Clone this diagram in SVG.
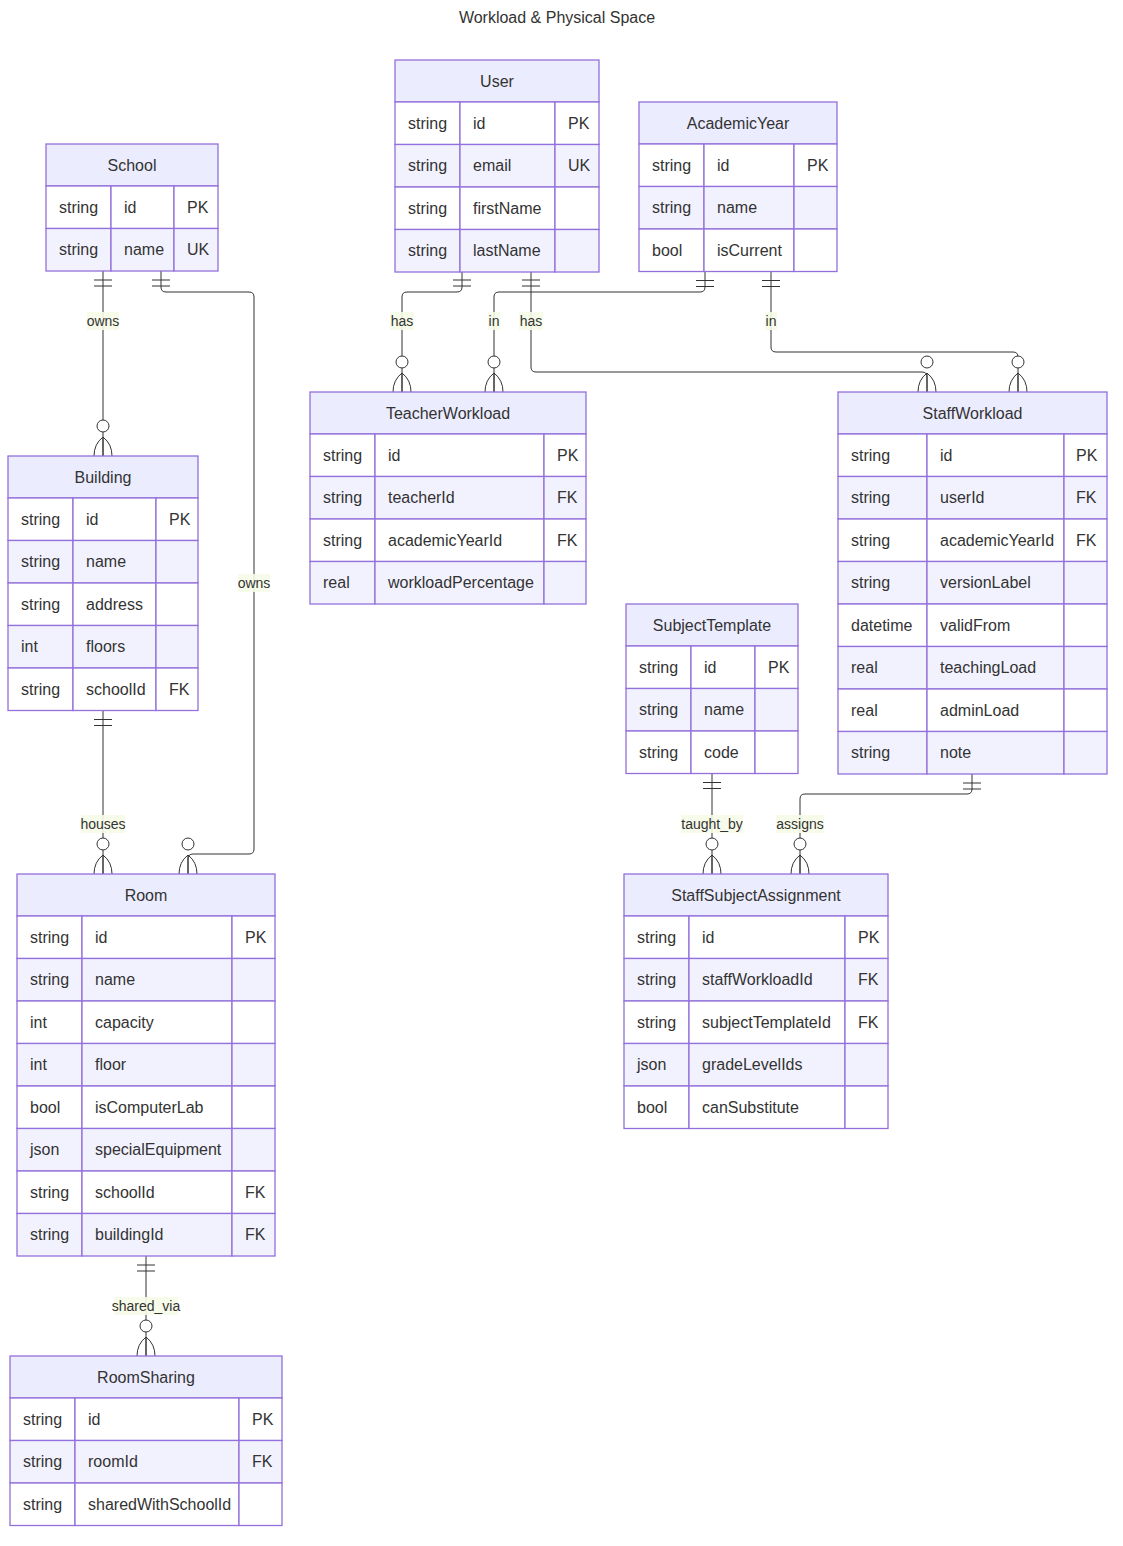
<svg xmlns="http://www.w3.org/2000/svg" xmlns:xlink="http://www.w3.org/1999/xlink" width="1123" height="1546" viewBox="0 0 1123 1546">
<style>
.hd{fill:#ECECFF;stroke:#9370DB;stroke-width:1.3}
.ro{fill:#FFFFFF;stroke:#9370DB;stroke-width:1.3}
.re{fill:#F2F2FF;stroke:#9370DB;stroke-width:1.3}
text{font-family:"Liberation Sans",Arial,sans-serif;fill:#333333;dominant-baseline:central}
.h{font-size:16px;text-anchor:middle}
.a{font-size:16px}
.ttl{font-size:16px;text-anchor:middle}
.l{font-size:14px;text-anchor:middle}
.lb{fill:#F6FBE8;opacity:0.9}
.edge{fill:none;stroke:#333333;stroke-width:1}
.mk{fill:none;stroke:#333333;stroke-width:1}
.mc{fill:#FFFFFF;stroke:#333333;stroke-width:1}
</style>
<defs>
<g id="one"><path class="mk" d="M-9,9 L9,9 M-9,15 L9,15"/></g>
<g id="many"><circle class="mc" cx="0" cy="-30" r="6"/><path class="mk" d="M-9,0 Q-9,-12 0,-19 Q9,-12 9,0 M0,-19 L0,0"/></g>
</defs>
<rect x="0" y="0" width="1123" height="1546" fill="#FFFFFF"/>
<text class="ttl" x="557" y="17">Workload &amp; Physical Space</text>

<g id="connectors">
<path class="edge" d="M103,271 L103,456"/>
<path class="edge" d="M161,271 L161,287 Q161,292 166,292 L249,292 Q254,292 254,297 L254,849 Q254,854 249,854 L193,854 Q188,854 188,859 L188,874"/>
<path class="edge" d="M103,710.5 L103,874"/>
<path class="edge" d="M146,1256 L146,1356"/>
<path class="edge" d="M462,271 L462,287 Q462,292 457,292 L407,292 Q402,292 402,297 L402,392"/>
<path class="edge" d="M705,271.5 L705,287 Q705,292 700,292 L499,292 Q494,292 494,297 L494,392"/>
<path class="edge" d="M531,271 L531,367 Q531,372 536,372 L922,372 Q927,372 927,377 L927,392"/>
<path class="edge" d="M771,271.5 L771,347 Q771,352 776,352 L1013,352 Q1018,352 1018,357 L1018,392"/>
<path class="edge" d="M712,773.5 L712,874"/>
<path class="edge" d="M972,774 L972,789 Q972,794 967,794 L805,794 Q800,794 800,799 L800,874"/>
<use href="#one" x="103" y="271"/>
<use href="#one" x="161" y="271"/>
<use href="#one" x="103" y="710.5"/>
<use href="#one" x="146" y="1256"/>
<use href="#one" x="462" y="271"/>
<use href="#one" x="705" y="271.5"/>
<use href="#one" x="531" y="271"/>
<use href="#one" x="771" y="271.5"/>
<use href="#one" x="712" y="773.5"/>
<use href="#one" x="972" y="774"/>
<use href="#many" x="103" y="456"/>
<use href="#many" x="188" y="874"/>
<use href="#many" x="103" y="874"/>
<use href="#many" x="146" y="1356"/>
<use href="#many" x="402" y="392"/>
<use href="#many" x="494" y="392"/>
<use href="#many" x="927" y="392"/>
<use href="#many" x="1018" y="392"/>
<use href="#many" x="712" y="874"/>
<use href="#many" x="800" y="874"/>
<rect class="lb" x="87" y="312" width="32" height="18"/><text class="l" x="103" y="321">owns</text>
<rect class="lb" x="238" y="574" width="32" height="18"/><text class="l" x="254" y="583">owns</text>
<rect class="lb" x="81" y="815" width="44" height="18"/><text class="l" x="103" y="824">houses</text>
<rect class="lb" x="114" y="1297" width="64" height="18"/><text class="l" x="146" y="1306">shared_via</text>
<rect class="lb" x="390" y="312" width="24" height="18"/><text class="l" x="402" y="321">has</text>
<rect class="lb" x="488" y="312" width="12" height="18"/><text class="l" x="494" y="321">in</text>
<rect class="lb" x="519" y="312" width="24" height="18"/><text class="l" x="531" y="321">has</text>
<rect class="lb" x="765" y="312" width="12" height="18"/><text class="l" x="771" y="321">in</text>
<rect class="lb" x="681" y="815" width="62" height="18"/><text class="l" x="712" y="824">taught_by</text>
<rect class="lb" x="776" y="815" width="48" height="18"/><text class="l" x="800" y="824">assigns</text>
</g>

<g id="School">
<rect class="hd" x="46" y="144" width="172" height="42"/><text class="h" x="132" y="165">School</text>
<rect class="ro" x="46" y="186" width="65" height="42.5"/><rect class="ro" x="111" y="186" width="63" height="42.5"/><rect class="ro" x="174" y="186" width="44" height="42.5"/>
<text class="a" x="59" y="207.25">string</text><text class="a" x="124" y="207.25">id</text><text class="a" x="187" y="207.25">PK</text>
<rect class="re" x="46" y="228.5" width="65" height="42.5"/><rect class="re" x="111" y="228.5" width="63" height="42.5"/><rect class="re" x="174" y="228.5" width="44" height="42.5"/>
<text class="a" x="59" y="249.75">string</text><text class="a" x="124" y="249.75">name</text><text class="a" x="187" y="249.75">UK</text>
</g>

<g id="User">
<rect class="hd" x="395" y="60" width="204" height="42"/><text class="h" x="497" y="81">User</text>
<rect class="ro" x="395" y="102" width="65" height="42.5"/><rect class="ro" x="460" y="102" width="95" height="42.5"/><rect class="ro" x="555" y="102" width="44" height="42.5"/>
<text class="a" x="408" y="123.25">string</text><text class="a" x="473" y="123.25">id</text><text class="a" x="568" y="123.25">PK</text>
<rect class="re" x="395" y="144.5" width="65" height="42.5"/><rect class="re" x="460" y="144.5" width="95" height="42.5"/><rect class="re" x="555" y="144.5" width="44" height="42.5"/>
<text class="a" x="408" y="165.75">string</text><text class="a" x="473" y="165.75">email</text><text class="a" x="568" y="165.75">UK</text>
<rect class="ro" x="395" y="187" width="65" height="42.5"/><rect class="ro" x="460" y="187" width="95" height="42.5"/><rect class="ro" x="555" y="187" width="44" height="42.5"/>
<text class="a" x="408" y="208.25">string</text><text class="a" x="473" y="208.25">firstName</text>
<rect class="re" x="395" y="229.5" width="65" height="42.5"/><rect class="re" x="460" y="229.5" width="95" height="42.5"/><rect class="re" x="555" y="229.5" width="44" height="42.5"/>
<text class="a" x="408" y="250.75">string</text><text class="a" x="473" y="250.75">lastName</text>
</g>

<g id="AcademicYear">
<rect class="hd" x="639" y="102" width="198" height="42"/><text class="h" x="738" y="123">AcademicYear</text>
<rect class="ro" x="639" y="144" width="65" height="42.5"/><rect class="ro" x="704" y="144" width="90" height="42.5"/><rect class="ro" x="794" y="144" width="43" height="42.5"/>
<text class="a" x="652" y="165.25">string</text><text class="a" x="717" y="165.25">id</text><text class="a" x="807" y="165.25">PK</text>
<rect class="re" x="639" y="186.5" width="65" height="42.5"/><rect class="re" x="704" y="186.5" width="90" height="42.5"/><rect class="re" x="794" y="186.5" width="43" height="42.5"/>
<text class="a" x="652" y="207.75">string</text><text class="a" x="717" y="207.75">name</text>
<rect class="ro" x="639" y="229" width="65" height="42.5"/><rect class="ro" x="704" y="229" width="90" height="42.5"/><rect class="ro" x="794" y="229" width="43" height="42.5"/>
<text class="a" x="652" y="250.25">bool</text><text class="a" x="717" y="250.25">isCurrent</text>
</g>

<g id="Building">
<rect class="hd" x="8" y="456" width="190" height="42"/><text class="h" x="103" y="477">Building</text>
<rect class="ro" x="8" y="498" width="65" height="42.5"/><rect class="ro" x="73" y="498" width="83" height="42.5"/><rect class="ro" x="156" y="498" width="42" height="42.5"/>
<text class="a" x="21" y="519.25">string</text><text class="a" x="86" y="519.25">id</text><text class="a" x="169" y="519.25">PK</text>
<rect class="re" x="8" y="540.5" width="65" height="42.5"/><rect class="re" x="73" y="540.5" width="83" height="42.5"/><rect class="re" x="156" y="540.5" width="42" height="42.5"/>
<text class="a" x="21" y="561.75">string</text><text class="a" x="86" y="561.75">name</text>
<rect class="ro" x="8" y="583" width="65" height="42.5"/><rect class="ro" x="73" y="583" width="83" height="42.5"/><rect class="ro" x="156" y="583" width="42" height="42.5"/>
<text class="a" x="21" y="604.25">string</text><text class="a" x="86" y="604.25">address</text>
<rect class="re" x="8" y="625.5" width="65" height="42.5"/><rect class="re" x="73" y="625.5" width="83" height="42.5"/><rect class="re" x="156" y="625.5" width="42" height="42.5"/>
<text class="a" x="21" y="646.75">int</text><text class="a" x="86" y="646.75">floors</text>
<rect class="ro" x="8" y="668" width="65" height="42.5"/><rect class="ro" x="73" y="668" width="83" height="42.5"/><rect class="ro" x="156" y="668" width="42" height="42.5"/>
<text class="a" x="21" y="689.25">string</text><text class="a" x="86" y="689.25">schoolId</text><text class="a" x="169" y="689.25">FK</text>
</g>

<g id="TeacherWorkload">
<rect class="hd" x="310" y="392" width="276" height="42"/><text class="h" x="448" y="413">TeacherWorkload</text>
<rect class="ro" x="310" y="434" width="65" height="42.5"/><rect class="ro" x="375" y="434" width="169" height="42.5"/><rect class="ro" x="544" y="434" width="42" height="42.5"/>
<text class="a" x="323" y="455.25">string</text><text class="a" x="388" y="455.25">id</text><text class="a" x="557" y="455.25">PK</text>
<rect class="re" x="310" y="476.5" width="65" height="42.5"/><rect class="re" x="375" y="476.5" width="169" height="42.5"/><rect class="re" x="544" y="476.5" width="42" height="42.5"/>
<text class="a" x="323" y="497.75">string</text><text class="a" x="388" y="497.75">teacherId</text><text class="a" x="557" y="497.75">FK</text>
<rect class="ro" x="310" y="519" width="65" height="42.5"/><rect class="ro" x="375" y="519" width="169" height="42.5"/><rect class="ro" x="544" y="519" width="42" height="42.5"/>
<text class="a" x="323" y="540.25">string</text><text class="a" x="388" y="540.25">academicYearId</text><text class="a" x="557" y="540.25">FK</text>
<rect class="re" x="310" y="561.5" width="65" height="42.5"/><rect class="re" x="375" y="561.5" width="169" height="42.5"/><rect class="re" x="544" y="561.5" width="42" height="42.5"/>
<text class="a" x="323" y="582.75">real</text><text class="a" x="388" y="582.75">workloadPercentage</text>
</g>

<g id="StaffWorkload">
<rect class="hd" x="838" y="392" width="269" height="42"/><text class="h" x="972.5" y="413">StaffWorkload</text>
<rect class="ro" x="838" y="434" width="89" height="42.5"/><rect class="ro" x="927" y="434" width="137" height="42.5"/><rect class="ro" x="1064" y="434" width="43" height="42.5"/>
<text class="a" x="851" y="455.25">string</text><text class="a" x="940" y="455.25">id</text><text class="a" x="1076" y="455.25">PK</text>
<rect class="re" x="838" y="476.5" width="89" height="42.5"/><rect class="re" x="927" y="476.5" width="137" height="42.5"/><rect class="re" x="1064" y="476.5" width="43" height="42.5"/>
<text class="a" x="851" y="497.75">string</text><text class="a" x="940" y="497.75">userId</text><text class="a" x="1076" y="497.75">FK</text>
<rect class="ro" x="838" y="519" width="89" height="42.5"/><rect class="ro" x="927" y="519" width="137" height="42.5"/><rect class="ro" x="1064" y="519" width="43" height="42.5"/>
<text class="a" x="851" y="540.25">string</text><text class="a" x="940" y="540.25">academicYearId</text><text class="a" x="1076" y="540.25">FK</text>
<rect class="re" x="838" y="561.5" width="89" height="42.5"/><rect class="re" x="927" y="561.5" width="137" height="42.5"/><rect class="re" x="1064" y="561.5" width="43" height="42.5"/>
<text class="a" x="851" y="582.75">string</text><text class="a" x="940" y="582.75">versionLabel</text>
<rect class="ro" x="838" y="604" width="89" height="42.5"/><rect class="ro" x="927" y="604" width="137" height="42.5"/><rect class="ro" x="1064" y="604" width="43" height="42.5"/>
<text class="a" x="851" y="625.25">datetime</text><text class="a" x="940" y="625.25">validFrom</text>
<rect class="re" x="838" y="646.5" width="89" height="42.5"/><rect class="re" x="927" y="646.5" width="137" height="42.5"/><rect class="re" x="1064" y="646.5" width="43" height="42.5"/>
<text class="a" x="851" y="667.75">real</text><text class="a" x="940" y="667.75">teachingLoad</text>
<rect class="ro" x="838" y="689" width="89" height="42.5"/><rect class="ro" x="927" y="689" width="137" height="42.5"/><rect class="ro" x="1064" y="689" width="43" height="42.5"/>
<text class="a" x="851" y="710.25">real</text><text class="a" x="940" y="710.25">adminLoad</text>
<rect class="re" x="838" y="731.5" width="89" height="42.5"/><rect class="re" x="927" y="731.5" width="137" height="42.5"/><rect class="re" x="1064" y="731.5" width="43" height="42.5"/>
<text class="a" x="851" y="752.75">string</text><text class="a" x="940" y="752.75">note</text>
</g>

<g id="SubjectTemplate">
<rect class="hd" x="626" y="604" width="172" height="42"/><text class="h" x="712" y="625">SubjectTemplate</text>
<rect class="ro" x="626" y="646" width="65" height="42.5"/><rect class="ro" x="691" y="646" width="64" height="42.5"/><rect class="ro" x="755" y="646" width="43" height="42.5"/>
<text class="a" x="639" y="667.25">string</text><text class="a" x="704" y="667.25">id</text><text class="a" x="768" y="667.25">PK</text>
<rect class="re" x="626" y="688.5" width="65" height="42.5"/><rect class="re" x="691" y="688.5" width="64" height="42.5"/><rect class="re" x="755" y="688.5" width="43" height="42.5"/>
<text class="a" x="639" y="709.75">string</text><text class="a" x="704" y="709.75">name</text>
<rect class="ro" x="626" y="731" width="65" height="42.5"/><rect class="ro" x="691" y="731" width="64" height="42.5"/><rect class="ro" x="755" y="731" width="43" height="42.5"/>
<text class="a" x="639" y="752.25">string</text><text class="a" x="704" y="752.25">code</text>
</g>

<g id="Room">
<rect class="hd" x="17" y="874" width="258" height="42"/><text class="h" x="146" y="895">Room</text>
<rect class="ro" x="17" y="916" width="65" height="42.5"/><rect class="ro" x="82" y="916" width="150" height="42.5"/><rect class="ro" x="232" y="916" width="43" height="42.5"/>
<text class="a" x="30" y="937.25">string</text><text class="a" x="95" y="937.25">id</text><text class="a" x="245" y="937.25">PK</text>
<rect class="re" x="17" y="958.5" width="65" height="42.5"/><rect class="re" x="82" y="958.5" width="150" height="42.5"/><rect class="re" x="232" y="958.5" width="43" height="42.5"/>
<text class="a" x="30" y="979.75">string</text><text class="a" x="95" y="979.75">name</text>
<rect class="ro" x="17" y="1001" width="65" height="42.5"/><rect class="ro" x="82" y="1001" width="150" height="42.5"/><rect class="ro" x="232" y="1001" width="43" height="42.5"/>
<text class="a" x="30" y="1022.25">int</text><text class="a" x="95" y="1022.25">capacity</text>
<rect class="re" x="17" y="1043.5" width="65" height="42.5"/><rect class="re" x="82" y="1043.5" width="150" height="42.5"/><rect class="re" x="232" y="1043.5" width="43" height="42.5"/>
<text class="a" x="30" y="1064.75">int</text><text class="a" x="95" y="1064.75">floor</text>
<rect class="ro" x="17" y="1086" width="65" height="42.5"/><rect class="ro" x="82" y="1086" width="150" height="42.5"/><rect class="ro" x="232" y="1086" width="43" height="42.5"/>
<text class="a" x="30" y="1107.25">bool</text><text class="a" x="95" y="1107.25">isComputerLab</text>
<rect class="re" x="17" y="1128.5" width="65" height="42.5"/><rect class="re" x="82" y="1128.5" width="150" height="42.5"/><rect class="re" x="232" y="1128.5" width="43" height="42.5"/>
<text class="a" x="30" y="1149.75">json</text><text class="a" x="95" y="1149.75">specialEquipment</text>
<rect class="ro" x="17" y="1171" width="65" height="42.5"/><rect class="ro" x="82" y="1171" width="150" height="42.5"/><rect class="ro" x="232" y="1171" width="43" height="42.5"/>
<text class="a" x="30" y="1192.25">string</text><text class="a" x="95" y="1192.25">schoolId</text><text class="a" x="245" y="1192.25">FK</text>
<rect class="re" x="17" y="1213.5" width="65" height="42.5"/><rect class="re" x="82" y="1213.5" width="150" height="42.5"/><rect class="re" x="232" y="1213.5" width="43" height="42.5"/>
<text class="a" x="30" y="1234.75">string</text><text class="a" x="95" y="1234.75">buildingId</text><text class="a" x="245" y="1234.75">FK</text>
</g>

<g id="StaffSubjectAssignment">
<rect class="hd" x="624" y="874" width="264" height="42"/><text class="h" x="756" y="895">StaffSubjectAssignment</text>
<rect class="ro" x="624" y="916" width="65" height="42.5"/><rect class="ro" x="689" y="916" width="156" height="42.5"/><rect class="ro" x="845" y="916" width="43" height="42.5"/>
<text class="a" x="637" y="937.25">string</text><text class="a" x="702" y="937.25">id</text><text class="a" x="858" y="937.25">PK</text>
<rect class="re" x="624" y="958.5" width="65" height="42.5"/><rect class="re" x="689" y="958.5" width="156" height="42.5"/><rect class="re" x="845" y="958.5" width="43" height="42.5"/>
<text class="a" x="637" y="979.75">string</text><text class="a" x="702" y="979.75">staffWorkloadId</text><text class="a" x="858" y="979.75">FK</text>
<rect class="ro" x="624" y="1001" width="65" height="42.5"/><rect class="ro" x="689" y="1001" width="156" height="42.5"/><rect class="ro" x="845" y="1001" width="43" height="42.5"/>
<text class="a" x="637" y="1022.25">string</text><text class="a" x="702" y="1022.25">subjectTemplateId</text><text class="a" x="858" y="1022.25">FK</text>
<rect class="re" x="624" y="1043.5" width="65" height="42.5"/><rect class="re" x="689" y="1043.5" width="156" height="42.5"/><rect class="re" x="845" y="1043.5" width="43" height="42.5"/>
<text class="a" x="637" y="1064.75">json</text><text class="a" x="702" y="1064.75">gradeLevelIds</text>
<rect class="ro" x="624" y="1086" width="65" height="42.5"/><rect class="ro" x="689" y="1086" width="156" height="42.5"/><rect class="ro" x="845" y="1086" width="43" height="42.5"/>
<text class="a" x="637" y="1107.25">bool</text><text class="a" x="702" y="1107.25">canSubstitute</text>
</g>

<g id="RoomSharing">
<rect class="hd" x="10" y="1356" width="272" height="42"/><text class="h" x="146" y="1377">RoomSharing</text>
<rect class="ro" x="10" y="1398" width="65" height="42.5"/><rect class="ro" x="75" y="1398" width="164" height="42.5"/><rect class="ro" x="239" y="1398" width="43" height="42.5"/>
<text class="a" x="23" y="1419.25">string</text><text class="a" x="88" y="1419.25">id</text><text class="a" x="252" y="1419.25">PK</text>
<rect class="re" x="10" y="1440.5" width="65" height="42.5"/><rect class="re" x="75" y="1440.5" width="164" height="42.5"/><rect class="re" x="239" y="1440.5" width="43" height="42.5"/>
<text class="a" x="23" y="1461.75">string</text><text class="a" x="88" y="1461.75">roomId</text><text class="a" x="252" y="1461.75">FK</text>
<rect class="ro" x="10" y="1483" width="65" height="42.5"/><rect class="ro" x="75" y="1483" width="164" height="42.5"/><rect class="ro" x="239" y="1483" width="43" height="42.5"/>
<text class="a" x="23" y="1504.25">string</text><text class="a" x="88" y="1504.25">sharedWithSchoolId</text>
</g>
</svg>
